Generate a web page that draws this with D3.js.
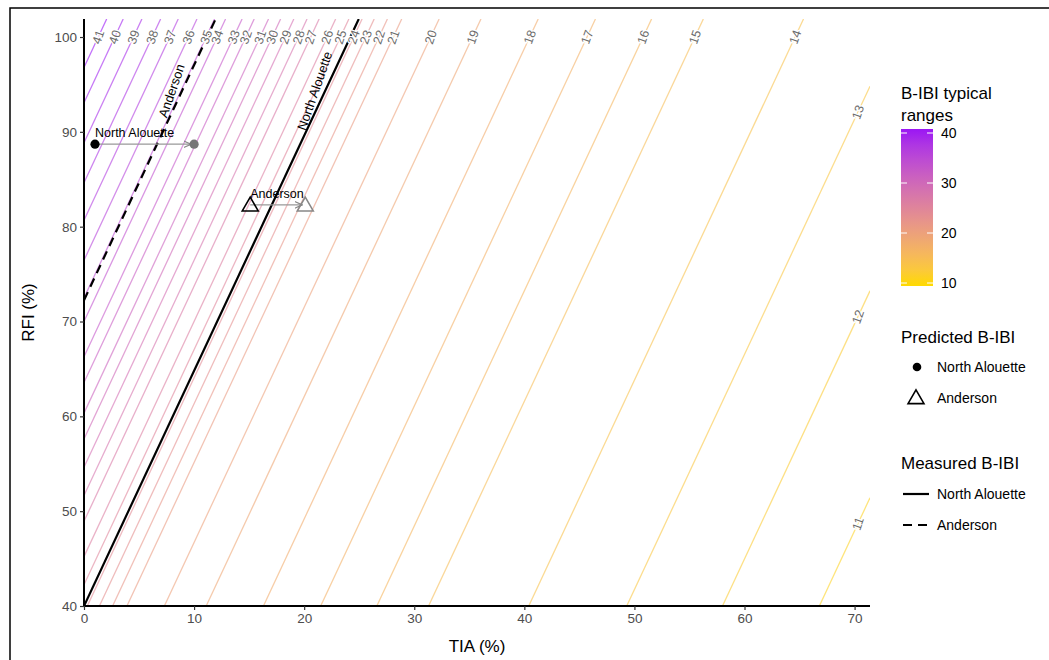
<!DOCTYPE html>
<html>
<head>
<meta charset="utf-8">
<script src="https://cdn.jsdelivr.net/npm/d3@7"></script>
<style>
body { margin: 0; background: #fff; }
svg { display: block; font-family: "Liberation Sans", Arial, sans-serif; }
</style>
</head>
<body>
<svg id="chart" width="1049" height="660"></svg>
<script>
// Contour levels of B-IBI and their TIA (%) position where each line meets RFI = 40
const contourLevels = [41, 40, 39, 38, 37, 36, 35, 34, 33, 32, 31, 30, 29, 28, 27, 26, 25, 24, 23, 22, 21, 20, 19, 18, 17, 16, 15, 14, 13, 12, 11];
const contourTIAat40 = [-22.9, -21.4, -19.7, -18.0, -16.4, -14.7, -13.1, -12.1, -10.6, -9.5, -8.2, -7.1, -5.9, -4.7, -3.6, -2.1, -0.9, 0.3, 1.4, 2.6, 3.9, 7.3, 11.1, 16.3, 21.5, 26.6, 31.3, 40.4, 49.3, 58.0, 66.8];
const contourSlope = 2.48; // RFI change per TIA unit along every contour

// Measured B-IBI lines
const measuredSites = ["North Alouette", "Anderson"];
const measuredTIAat40 = [0, -13.0];
const measuredDash = ["none", "9,6"];

// Predicted B-IBI points (from -> to)
const predictedSites = ["North Alouette", "Anderson"];
const predictedTIAfrom = [1.0, 15.1];
const predictedTIAto = [10.0, 20.1];
const predictedRFI = [88.7, 82.3];
const predictedShape = ["circle", "triangle"];

const xTicks = [0, 10, 20, 30, 40, 50, 60, 70];
const yTicks = [40, 50, 60, 70, 80, 90, 100];
const legendTicks = [10, 20, 30, 40];

const svg = d3.select("#chart");
const W = 1049, H = 660;
const xMax = 71.4, yMin = 40, yMax = 101.9;
const x = d3.scaleLinear().domain([0, xMax]).range([84, 870]);
const y = d3.scaleLinear().domain([yMin, yMax]).range([606, 19]);

const color = d3.scaleLinear().domain([10, 40]).range(["#FFD700", "#A020F0"]).interpolate(d3.interpolateLab);

svg.append("rect").attr("x", 0).attr("y", 0).attr("width", W).attr("height", H).attr("fill", "#fff");
// outer border
svg.append("rect").attr("x", 10).attr("y", 8).attr("width", W + 20).attr("height", H + 20)
  .attr("fill", "none").attr("stroke", "#000").attr("stroke-width", 1.5);

const defs = svg.append("defs");
defs.append("clipPath").attr("id", "panel")
  .append("rect").attr("x", x(0)).attr("y", y(yMax)).attr("width", x(xMax) - x(0)).attr("height", y(yMin) - y(yMax));

function segment(t0) {
  const p0 = t0 >= 0 ? [t0, yMin] : [0, yMin - contourSlope * t0];
  const tTop = t0 + (yMax - yMin) / contourSlope;
  const p1 = tTop <= xMax ? [tTop, yMax] : [xMax, yMin + contourSlope * (xMax - t0)];
  return [p0, p1];
}

const gLines = svg.append("g").attr("clip-path", "url(#panel)");
const contours = contourLevels.map((lv, i) => ({ lv, t0: contourTIAat40[i] }));
gLines.selectAll("line.c").data(contours).join("line")
  .attr("class", "c")
  .attr("x1", d => x(segment(d.t0)[0][0])).attr("y1", d => y(segment(d.t0)[0][1]))
  .attr("x2", d => x(segment(d.t0)[1][0])).attr("y2", d => y(segment(d.t0)[1][1]))
  .attr("stroke", d => color(d.lv)).attr("stroke-opacity", 0.6).attr("stroke-width", 1.3);

// measured lines
const measured = measuredSites.map((s, i) => ({ s, t0: measuredTIAat40[i], dash: measuredDash[i] }));
gLines.selectAll("line.m").data(measured).join("line")
  .attr("class", "m")
  .attr("x1", d => x(segment(d.t0)[0][0])).attr("y1", d => y(segment(d.t0)[0][1]))
  .attr("x2", d => x(segment(d.t0)[1][0])).attr("y2", d => y(segment(d.t0)[1][1]))
  .attr("stroke", "#000").attr("stroke-width", 2.2).attr("stroke-dasharray", d => d.dash);

const angle = -Math.atan((contourSlope * (x(1) - x(0))) / (y(0) - y(1))) * 180 / Math.PI;

// contour labels
svg.selectAll("text.cl").data(contours).join("text")
  .attr("class", "cl")
  .attr("transform", d => {
    const tTop = d.t0 + (yMax - yMin) / contourSlope;
    let tx, ry;
    if (tTop <= xMax) { ry = 100; tx = d.t0 + (ry - yMin) / contourSlope; }
    else { tx = 70.3; ry = yMin + contourSlope * (tx - d.t0); }
    return `translate(${x(tx)},${y(ry)}) rotate(${angle})`;
  })
  .attr("text-anchor", "middle").attr("dy", "0.35em")
  .attr("font-size", 12.5).attr("fill", "#6b6b6b")
  .attr("stroke", "#fff").attr("stroke-width", 2.5).attr("paint-order", "stroke")
  .text(d => d.lv);

// measured line labels
const measLabelRFI = [94.0, 94.0];
svg.selectAll("text.ml").data(measured).join("text")
  .attr("class", "ml")
  .attr("transform", (d, i) => {
    const ry = measLabelRFI[i];
    const tx = d.t0 + (ry - yMin) / contourSlope;
    return `translate(${x(tx)},${y(ry)}) rotate(${angle}) translate(0,-5)`;
  })
  .attr("text-anchor", "middle").attr("font-size", 13).attr("fill", "#000")
  .text(d => d.s);

// predicted arrows and points
const predicted = predictedSites.map((s, i) => ({ s, a: predictedTIAfrom[i], b: predictedTIAto[i], r: predictedRFI[i], shape: predictedShape[i] }));
defs.append("marker").attr("id", "arr").attr("viewBox", "0 0 10 10").attr("refX", 9).attr("refY", 5)
  .attr("markerWidth", 7).attr("markerHeight", 7).attr("orient", "auto")
  .append("path").attr("d", "M0,1 L9,5 L0,9").attr("fill", "none").attr("stroke", "#888").attr("stroke-width", 1.4);

svg.selectAll("line.arrow").data(predicted).join("line")
  .attr("class", "arrow")
  .attr("x1", d => x(d.a)).attr("y1", d => y(d.r))
  .attr("x2", d => x(d.b) - 3).attr("y2", d => y(d.r))
  .attr("stroke", "#999").attr("stroke-width", 1.2).attr("marker-end", "url(#arr)");

const tri = d3.symbol().type(d3.symbolTriangle).size(110);
function drawShape(sel, d, xv, fill, stroke) {
  if (d.shape === "circle") {
    sel.append("circle").attr("cx", x(xv)).attr("cy", y(d.r)).attr("r", 4.6)
      .attr("fill", fill).attr("stroke", "none");
  } else {
    sel.append("path").attr("d", tri).attr("transform", `translate(${x(xv)},${y(d.r) + 1.5})`)
      .attr("fill", "none").attr("stroke", stroke).attr("stroke-width", 1.6);
  }
}
const gPts = svg.append("g");
predicted.forEach(d => {
  drawShape(gPts, d, d.b, "#777", "#888");
  drawShape(gPts, d, d.a, "#000", "#000");
  gPts.append("text").attr("x", x(d.a)).attr("y", y(d.r) - 7)
    .attr("font-size", 12.5).attr("fill", "#000").text(d.s);
});

// axes
const gx = svg.append("g").attr("transform", `translate(0,${y(yMin)})`)
  .call(d3.axisBottom(x).tickValues(xTicks).tickSize(4).tickPadding(3));
const gy = svg.append("g").attr("transform", `translate(${x(0)},0)`)
  .call(d3.axisLeft(y).tickValues(yTicks).tickSize(4).tickPadding(3));
[gx, gy].forEach(g => {
  g.select(".domain").attr("stroke", "#000").attr("stroke-width", 2);
  g.selectAll(".tick line").attr("stroke", "#333").attr("stroke-width", 1.2);
  g.selectAll(".tick text").attr("fill", "#4d4d4d").attr("font-size", 13.5)
    .attr("font-family", "'Liberation Sans', Arial, sans-serif");
});
gx.select(".domain").attr("d", `M${x(0)},0H${x(xMax)}`);
gy.select(".domain").attr("d", `M0,${y(yMin)}V${y(yMax)}`);

svg.append("text").attr("x", (x(0) + x(xMax)) / 2).attr("y", 652).attr("text-anchor", "middle")
  .attr("font-size", 17).attr("fill", "#000").text("TIA (%)");
svg.append("text").attr("transform", `translate(34,${(y(yMin) + y(yMax)) / 2}) rotate(-90)`)
  .attr("text-anchor", "middle").attr("font-size", 17).attr("fill", "#000").text("RFI (%)");

// legend: colour bar
const lg = svg.append("g");
lg.append("text").attr("x", 901).attr("y", 99).attr("font-size", 17).text("B-IBI typical");
lg.append("text").attr("x", 901).attr("y", 121).attr("font-size", 17).text("ranges");
const cb = d3.scaleLinear().domain([9.4, 40.8]).range([286, 129]);
const grad = defs.append("linearGradient").attr("id", "cbg").attr("x1", 0).attr("y1", 1).attr("x2", 0).attr("y2", 0);
d3.range(0, 1.0001, 0.1).forEach(t => {
  const v = 9.4 + t * (40.8 - 9.4);
  grad.append("stop").attr("offset", t).attr("stop-color", color(v));
});
lg.append("rect").attr("x", 901).attr("y", cb(40.8)).attr("width", 32).attr("height", cb(9.4) - cb(40.8)).attr("fill", "url(#cbg)");
legendTicks.forEach(v => {
  lg.append("line").attr("x1", 901).attr("x2", 907).attr("y1", cb(v)).attr("y2", cb(v)).attr("stroke", "#fff").attr("stroke-width", 1);
  lg.append("line").attr("x1", 927).attr("x2", 933).attr("y1", cb(v)).attr("y2", cb(v)).attr("stroke", "#fff").attr("stroke-width", 1);
  lg.append("text").attr("x", 941).attr("y", cb(v)).attr("dy", "0.35em").attr("font-size", 14).text(v);
});

// legend: predicted
lg.append("text").attr("x", 901).attr("y", 343).attr("font-size", 17).text("Predicted B-IBI");
const legPtY = [367, 398];
predictedSites.forEach((s, i) => {
  const yy = legPtY[i];
  if (predictedShape[i] === "circle") {
    lg.append("circle").attr("cx", 917).attr("cy", yy).attr("r", 4.3).attr("fill", "#000");
  } else {
    lg.append("path").attr("d", tri).attr("transform", `translate(916,${yy + 1})`).attr("fill", "none").attr("stroke", "#000").attr("stroke-width", 1.6);
  }
  lg.append("text").attr("x", 937).attr("y", yy).attr("dy", "0.35em").attr("font-size", 14).text(s);
});

// legend: measured
lg.append("text").attr("x", 901).attr("y", 469).attr("font-size", 17).text("Measured B-IBI");
measuredSites.forEach((s, i) => {
  const yy = 494 + i * 31;
  lg.append("line").attr("x1", 903).attr("x2", 929).attr("y1", yy).attr("y2", yy)
    .attr("stroke", "#000").attr("stroke-width", 2.2).attr("stroke-dasharray", i === 0 ? "none" : "9,6");
  lg.append("text").attr("x", 937).attr("y", yy).attr("dy", "0.35em").attr("font-size", 14).text(s);
});
</script>
</body>
</html>
